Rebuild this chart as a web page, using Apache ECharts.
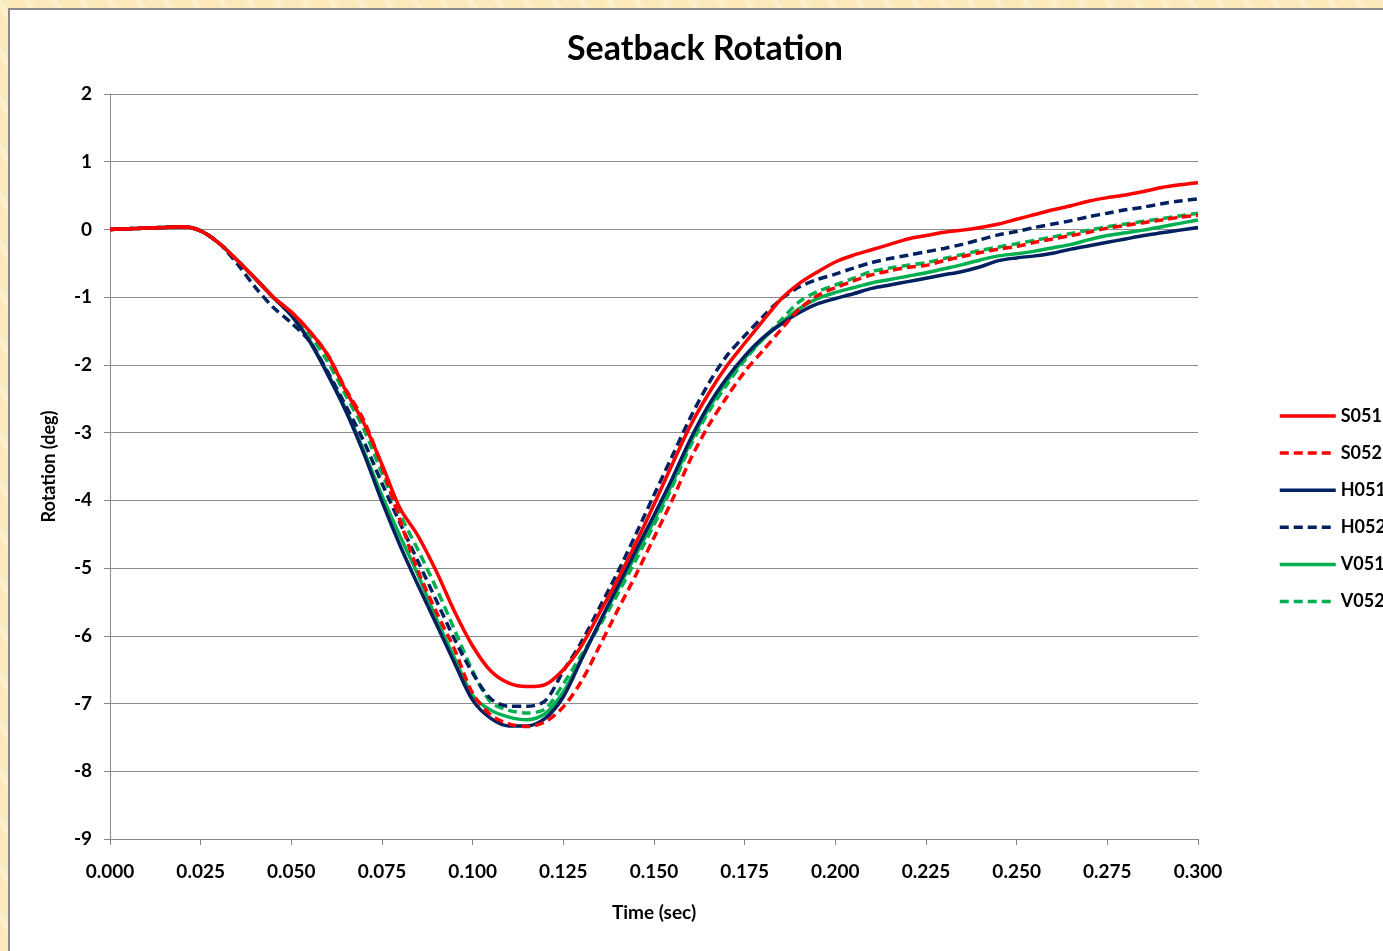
<!DOCTYPE html>
<html>
<head>
<meta charset="utf-8">
<script src="https://cdn.jsdelivr.net/npm/echarts@6/dist/echarts.min.js"></script>
<style>
  html, body { margin: 0; padding: 0; }
  body {
    width: 1383px; height: 951px; overflow: hidden; position: relative;
    background: repeating-linear-gradient(60deg, #fbe9b9 0px, #fbe9b9 14px, #fdf1d0 18px, #fbe9b9 24px);
  }
  #panel {
    position: absolute; left: 8px; top: 8px; width: 1400px; height: 1000px;
    background: #fff; border: 2px solid #8a8a8a;
  }
  #main { position: absolute; left: 0; top: 0; width: 1383px; height: 951px; }
</style>
</head>
<body>
<div id="panel"></div>
<div id="main"></div>
<script>
// time (sec)
const time = [0, 0.005, 0.01, 0.015, 0.02, 0.025, 0.03, 0.035, 0.04, 0.045, 0.05, 0.055, 0.06, 0.065, 0.07, 0.075,
  0.08, 0.085, 0.09, 0.095, 0.1, 0.105, 0.11, 0.115, 0.12, 0.125, 0.13, 0.135, 0.14, 0.145, 0.15, 0.155,
  0.16, 0.165, 0.17, 0.175, 0.18, 0.185, 0.19, 0.195, 0.2, 0.205, 0.21, 0.215, 0.22, 0.225, 0.23, 0.235,
  0.24, 0.245, 0.25, 0.255, 0.26, 0.265, 0.27, 0.275, 0.28, 0.285, 0.29, 0.295, 0.3];

// rotation (deg) per test
const s051 = [0, 0.01, 0.02, 0.03, 0.04, -0.02, -0.2, -0.45, -0.72, -1.0, -1.22, -1.5, -1.85, -2.38, -2.86, -3.47,
  -4.12, -4.53, -5.05, -5.64, -6.15, -6.52, -6.7, -6.75, -6.72, -6.5, -6.15, -5.66, -5.17, -4.63, -4.06, -3.47,
  -2.9, -2.43, -2.02, -1.68, -1.35, -1.03, -0.8, -0.63, -0.48, -0.38, -0.3, -0.22, -0.14, -0.09, -0.04, -0.01,
  0.03, 0.08, 0.15, 0.22, 0.29, 0.35, 0.42, 0.47, 0.51, 0.56, 0.62, 0.66, 0.69];
const s052 = [0, 0.01, 0.02, 0.03, 0.04, -0.02, -0.2, -0.45, -0.72, -1.0, -1.22, -1.5, -1.85, -2.36, -2.82, -3.5,
  -4.3, -5.05, -5.65, -6.2, -6.85, -7.17, -7.3, -7.34, -7.27, -7.05, -6.67, -6.15, -5.62, -5.1, -4.55, -4.0,
  -3.4, -2.9, -2.48, -2.1, -1.79, -1.48, -1.18, -0.98, -0.86, -0.76, -0.67, -0.61, -0.56, -0.53, -0.46, -0.4,
  -0.34, -0.29, -0.25, -0.19, -0.14, -0.09, -0.04, 0.02, 0.06, 0.1, 0.14, 0.18, 0.21];
const h051 = [0, 0.01, 0.02, 0.03, 0.04, -0.02, -0.2, -0.45, -0.72, -1.0, -1.27, -1.65, -2.14, -2.68, -3.31, -4.02,
  -4.67, -5.26, -5.83, -6.4, -6.95, -7.22, -7.33, -7.33, -7.22, -6.9, -6.35, -5.8, -5.27, -4.74, -4.22, -3.68,
  -3.1, -2.6, -2.2, -1.87, -1.6, -1.4, -1.23, -1.1, -1.02, -0.95, -0.87, -0.82, -0.77, -0.72, -0.67, -0.62,
  -0.55, -0.46, -0.42, -0.39, -0.35, -0.29, -0.24, -0.19, -0.14, -0.09, -0.05, -0.01, 0.03];
const h052 = [0, 0.01, 0.02, 0.03, 0.04, -0.02, -0.2, -0.5, -0.85, -1.15, -1.38, -1.65, -2.1, -2.6, -3.13, -3.75,
  -4.34, -4.91, -5.48, -6.05, -6.55, -6.93, -7.04, -7.04, -6.96, -6.52, -6.09, -5.58, -5.06, -4.5, -3.92, -3.35,
  -2.78, -2.28, -1.87, -1.57, -1.29, -1.03, -0.85, -0.74, -0.66, -0.57, -0.49, -0.43, -0.38, -0.33, -0.28, -0.22,
  -0.15, -0.08, -0.03, 0.03, 0.08, 0.13, 0.19, 0.24, 0.29, 0.33, 0.38, 0.42, 0.45];
const v051 = [0, 0.01, 0.02, 0.03, 0.04, -0.02, -0.2, -0.45, -0.72, -1.0, -1.27, -1.63, -2.12, -2.65, -3.27, -3.93,
  -4.53, -5.11, -5.75, -6.33, -6.88, -7.1, -7.2, -7.24, -7.15, -6.83, -6.33, -5.81, -5.31, -4.8, -4.3, -3.75,
  -3.15, -2.65, -2.25, -1.9, -1.62, -1.38, -1.17, -1.02, -0.93, -0.86, -0.79, -0.74, -0.69, -0.64, -0.58, -0.52,
  -0.45, -0.39, -0.36, -0.32, -0.27, -0.22, -0.15, -0.09, -0.05, -0.01, 0.04, 0.09, 0.14];
const v052 = [0, 0.01, 0.02, 0.03, 0.04, -0.02, -0.2, -0.45, -0.72, -1.0, -1.25, -1.55, -1.95, -2.45, -2.95, -3.6,
  -4.21, -4.74, -5.3, -5.91, -6.52, -6.98, -7.1, -7.14, -7.08, -6.71, -6.28, -5.85, -5.38, -4.88, -4.36, -3.8,
  -3.2, -2.7, -2.3, -1.93, -1.62, -1.34, -1.07, -0.92, -0.82, -0.72, -0.62, -0.57, -0.53, -0.49, -0.43, -0.37,
  -0.31, -0.26, -0.21, -0.16, -0.11, -0.06, -0.01, 0.04, 0.08, 0.12, 0.16, 0.2, 0.24];

const names = ['S051', 'S052', 'H051', 'H052', 'V051', 'V052'];
const values = [s051, s052, h051, h052, v051, v052];
const colors = ['#ff0000', '#ff0000', '#002060', '#002060', '#00b050', '#00b050'];
const dashed = [false, true, false, true, false, true];

const font = 'Lato, "Open Sans", sans-serif';
let myChart = echarts.init(document.getElementById('main'));

let series = names.map((n, i) => ({
  name: n,
  type: 'line',
  symbol: 'none',
  smooth: 0.3,
  data: time.map((t, k) => [t, values[i][k]]),
  lineStyle: { color: colors[i], width: 3.5, type: dashed[i] ? [9, 5] : 'solid' },
  itemStyle: { color: colors[i] },
  z: 10 - i
}));

let option = {
  backgroundColor: 'transparent',
  animation: false,
  textStyle: { fontFamily: font },
  title: {
    text: 'Seatback Rotation',
    left: 700, top: 27, textAlign: 'center',
    textStyle: { fontSize: 34, fontWeight: 'bold', color: '#000', fontFamily: font }
  },
  legend: {
    orient: 'vertical',
    left: 1273, top: 402,
    itemWidth: 56, itemHeight: 16, itemGap: 19.1,
    itemStyle: { color: 'rgba(0,0,0,0)', borderWidth: 0, opacity: 0 },
    lineStyle: { width: 3.5 },
    textStyle: { fontSize: 18, fontWeight: 'bold', color: '#000', fontFamily: font },
    data: names
  },
  grid: { left: 110, right: 185, top: 94, bottom: 112, containLabel: false, outerBoundsMode: 'none' },
  xAxis: {
    type: 'value', min: 0, max: 0.3, interval: 0.025,
    name: 'Time (sec)', nameLocation: 'middle', nameGap: 64,
    nameTextStyle: { fontSize: 19, fontWeight: 'bold', color: '#000' },
    axisLine: { onZero: false, lineStyle: { color: '#888', width: 1 } },
    axisTick: { show: true, length: 6, lineStyle: { color: '#888' } },
    axisLabel: { fontSize: 19, fontWeight: 'bold', color: '#000', margin: 23,
      formatter: v => v.toFixed(3) },
    splitLine: { show: false }
  },
  yAxis: {
    type: 'value', min: -9, max: 2, interval: 1,
    name: 'Rotation (deg)', nameLocation: 'middle', nameGap: 52, nameRotate: 90,
    nameTextStyle: { fontSize: 18, fontWeight: 'bold', color: '#000' },
    axisLine: { show: true, lineStyle: { color: '#888', width: 1 } },
    axisTick: { show: true, length: 6, lineStyle: { color: '#888' } },
    axisLabel: { fontSize: 19, fontWeight: 'bold', color: '#000', margin: 18 },
    splitLine: { show: true, lineStyle: { color: '#8c8c8c', width: 1 } }
  },
  series: series
};

myChart.setOption(option);
</script>
</body>
</html>
